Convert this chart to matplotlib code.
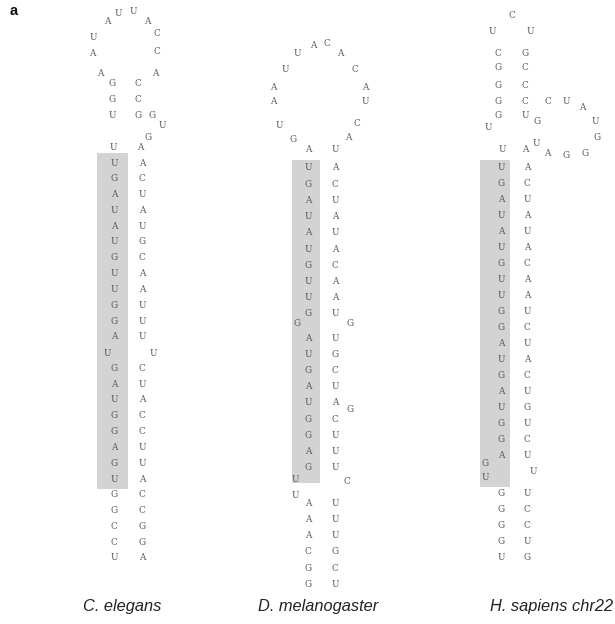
import matplotlib
matplotlib.use("Agg")
import matplotlib.pyplot as plt
from matplotlib.patches import Rectangle

# ---------------- data: sequences ----------------
# C. elegans
cel_stem = [(0, "UGAUAUGUUGGA", "ACUAUGCAAUUU"),
            (13, "GAUGGAGUGGCCU", "CUACCUUACCGGA")]
cel_loop = "UUGGAAUAUUACCACCGGUGA"
cel_bulge = "UU"
# D. melanogaster
dme_stem = [(0, "UGAUAUGUUG", "ACUAUACAAU"),
            (10.5, "AUGAUGGAG", "UGCUACUUU"),
            (20.7, "AAACGG", "UUUGCU")]
dme_loop = "AGUAAUUACACAUCAU"
dme_bulge = "GGGUCU"
# H. sapiens chr22
hsa_stem = [(0, "UGAUAUGUUGGAUGAUGGA", "ACUAUACAAUCUACUGUCU"),
            (20.4, "GGGGU", "UCCUG")]
hsa_loop = "UUGGGGCUCUGCCCUGCUAUGGGAUA"
hsa_bulge = "GUU"

labels = ["C. elegans", "D. melanogaster", "H. sapiens chr22"]

# ---------------- layout (pixel offsets relative to stem anchor) ----------------
cel_loop_xy = [(-1, -16), (-2, -47), (-2, -63), (-2, -79), (-14, -90), (-22, -110),
               (-21, -126), (-7, -141), (4, -150), (19, -152), (33, -141), (43, -130),
               (43, -111), (41, -90), (24, -79), (24, -63), (24, -47), (38, -47),
               (48, -37), (34, -25), (26, -16)]
cel_bulge_xy = [(-7, 190), (39, 190)]
dme_loop_xy = [(0, -18), (-15, -28), (-29, -43), (-35, -66), (-35, -80), (-23, -99),
               (-11, -115), (5, -123), (19, -124), (32, -115), (47, -99), (57, -80),
               (57, -66), (49, -45), (40, -30), (27, -18)]
dme_bulge_xy = [(-11, 155), (42, 155), (42, 242), (-13, 311), (39, 314), (-13, 327)]
hsa_loop_xy = [(1, -17), (-13, -39), (-3, -51), (-3, -65), (-3, -81), (-3, -99),
               (-3, -114), (-9, -136), (11, -152), (29, -136), (24, -114), (24, -99),
               (24, -81), (24, -65), (24, -51), (36, -45), (47, -65), (65, -65),
               (81, -60), (94, -45), (96, -30), (84, -13), (65, -12), (46, -13),
               (35, -23), (24, -17)]
hsa_bulge_xy = [(-16, 296), (-16, 311), (32, 305)]

hairpins = [
    dict(anchor=(114, 163), dx=28, dy=15.8, stem=cel_stem, loop=cel_loop, loop_xy=cel_loop_xy,
         bulge=cel_bulge, bulge_xy=cel_bulge_xy, box=(-17, -10, 31, 336), label_x=122),
    dict(anchor=(308, 168), dx=27, dy=16.2, stem=dme_stem, loop=dme_loop, loop_xy=dme_loop_xy,
         bulge=dme_bulge, bulge_xy=dme_bulge_xy, box=(-16, -8, 28, 323), label_x=318),
    dict(anchor=(501, 167), dx=26, dy=16.0, stem=hsa_stem, loop=hsa_loop, loop_xy=hsa_loop_xy,
         bulge=hsa_bulge, bulge_xy=hsa_bulge_xy, box=(-21, -7, 30, 327), label_x=552),
]

W, H = 615, 624
fig = plt.figure(figsize=(W / 100, H / 100), dpi=100)
ax = fig.add_axes([0, 0, 1, 1])
ax.set_xlim(0, W)
ax.set_ylim(H, 0)
ax.axis("off")

NT_COLOR = "#585858"
nt_kw = dict(fontsize=6.4, family="DejaVu Serif", color=NT_COLOR,
             ha="center", va="center", zorder=3)

for hp, lab in zip(hairpins, labels):
    x0, y0 = hp["anchor"]
    bx, by, bw, bh = hp["box"]
    ax.add_patch(Rectangle((x0 + bx, y0 + by), bw, bh, facecolor="#d3d3d3",
                           edgecolor="none", zorder=1))
    for start, left, right in hp["stem"]:
        for i, ch in enumerate(left):
            ax.text(x0, y0 + (start + i) * hp["dy"], ch, **nt_kw)
        for i, ch in enumerate(right):
            ax.text(x0 + hp["dx"], y0 + (start + i) * hp["dy"], ch, **nt_kw)
    for ch, (ox, oy) in zip(hp["loop"], hp["loop_xy"]):
        ax.text(x0 + ox, y0 + oy, ch, **nt_kw)
    for ch, (ox, oy) in zip(hp["bulge"], hp["bulge_xy"]):
        ax.text(x0 + ox, y0 + oy, ch, **nt_kw)
    ax.text(hp["label_x"], 607, lab, fontsize=11.8, family="Liberation Sans",
            style="italic", color="#222222", ha="center", va="center")

ax.text(14, 11, "a", fontsize=10.5, family="Liberation Sans", weight="bold",
        color="#111111", ha="center", va="center")

fig.savefig("out.png", dpi=100)
